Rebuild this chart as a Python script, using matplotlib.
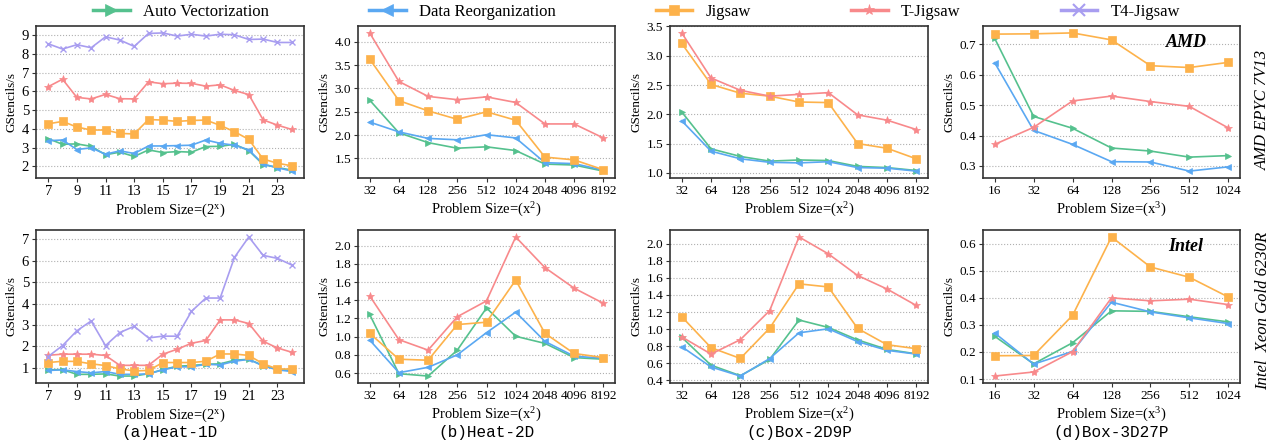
import numpy as np
import matplotlib.pyplot as plt
from matplotlib.lines import Line2D
from matplotlib.ticker import MultipleLocator, FormatStrFormatter

plt.rcParams['font.family'] = ['Liberation Serif', 'DejaVu Serif']
plt.rcParams['mathtext.fontset'] = 'stix'

# ---- data ----
heat1d_x = list(range(7, 25))
sq_sizes = ['32', '64', '128', '256', '512', '1024', '2048', '4096', '8192']
cube_sizes = ['16', '32', '64', '128', '256', '512', '1024']

# AMD EPYC 7V13
amd_h1_auto = [3.48, 3.18, 3.20, 3.07, 2.62, 2.76, 2.53, 2.88, 2.74, 2.79, 2.76, 3.06, 3.07, 3.18, 2.84, 2.10, 1.94, 1.80]
amd_h1_reorg = [3.37, 3.41, 2.90, 2.99, 2.65, 2.83, 2.69, 3.09, 3.09, 3.11, 3.13, 3.41, 3.23, 3.13, 2.88, 2.12, 1.93, 1.75]
amd_h1_jig = [4.27, 4.40, 4.10, 3.94, 3.94, 3.76, 3.73, 4.50, 4.47, 4.40, 4.45, 4.47, 4.19, 3.85, 3.44, 2.39, 2.17, 2.03]
amd_h1_tjig = [6.25, 6.65, 5.68, 5.60, 5.84, 5.61, 5.60, 6.51, 6.41, 6.44, 6.43, 6.28, 6.35, 6.05, 5.83, 4.48, 4.20, 3.97]
amd_h1_t4 = [8.54, 8.26, 8.49, 8.33, 8.91, 8.74, 8.40, 9.09, 9.12, 8.95, 9.05, 8.95, 9.05, 9.02, 8.77, 8.79, 8.61, 8.61]

amd_h2_auto = [2.75, 2.05, 1.84, 1.72, 1.75, 1.67, 1.38, 1.36, 1.23]
amd_h2_reorg = [2.28, 2.07, 1.93, 1.90, 2.01, 1.94, 1.41, 1.39, 1.25]
amd_h2_jig = [3.63, 2.74, 2.52, 2.34, 2.50, 2.32, 1.53, 1.47, 1.26]
amd_h2_tjig = [4.19, 3.15, 2.83, 2.76, 2.82, 2.70, 2.24, 2.24, 1.94]

amd_b2_auto = [2.04, 1.41, 1.28, 1.20, 1.22, 1.21, 1.11, 1.09, 1.04]
amd_b2_reorg = [1.89, 1.37, 1.24, 1.18, 1.17, 1.19, 1.09, 1.08, 1.03]
amd_b2_jig = [3.21, 2.51, 2.36, 2.31, 2.21, 2.20, 1.50, 1.42, 1.24]
amd_b2_tjig = [3.39, 2.62, 2.41, 2.31, 2.34, 2.37, 1.99, 1.90, 1.74]

amd_b3_auto = [0.720, 0.463, 0.424, 0.359, 0.349, 0.329, 0.334]
amd_b3_reorg = [0.640, 0.417, 0.371, 0.314, 0.313, 0.283, 0.297]
amd_b3_jig = [0.734, 0.735, 0.738, 0.715, 0.630, 0.624, 0.641]
amd_b3_tjig = [0.371, 0.427, 0.514, 0.530, 0.512, 0.496, 0.425]

# Intel Xeon Gold 6230R
intel_h1_auto = [0.91, 0.92, 0.70, 0.70, 0.72, 0.62, 0.62, 0.73, 0.92, 1.08, 1.11, 1.17, 1.19, 1.36, 1.40, 1.11, 0.94, 0.88]
intel_h1_reorg = [0.88, 0.91, 0.83, 0.77, 0.83, 0.70, 0.70, 0.72, 0.91, 1.05, 1.05, 1.17, 1.14, 1.31, 1.40, 1.09, 0.91, 0.83]
intel_h1_jig = [1.25, 1.31, 1.30, 1.19, 1.11, 0.95, 0.86, 0.88, 1.25, 1.25, 1.25, 1.31, 1.65, 1.65, 1.58, 1.19, 0.95, 0.95]
intel_h1_tjig = [1.59, 1.64, 1.64, 1.64, 1.58, 1.12, 1.12, 1.12, 1.64, 1.87, 2.15, 2.28, 3.24, 3.24, 3.07, 2.24, 1.93, 1.73]
intel_h1_t4 = [1.53, 2.04, 2.73, 3.19, 2.04, 2.65, 2.94, 2.40, 2.48, 2.48, 3.64, 4.26, 4.26, 6.16, 7.11, 6.25, 6.11, 5.80]

intel_h2_auto = [1.244, 0.593, 0.567, 0.852, 1.315, 1.004, 0.926, 0.770, 0.752]
intel_h2_reorg = [0.963, 0.604, 0.663, 0.800, 1.044, 1.270, 0.948, 0.785, 0.763]
intel_h2_jig = [1.037, 0.752, 0.741, 1.133, 1.159, 1.622, 1.037, 0.815, 0.770]
intel_h2_tjig = [1.448, 0.967, 0.852, 1.219, 1.393, 2.096, 1.759, 1.533, 1.367]

intel_b2_auto = [0.905, 0.578, 0.455, 0.645, 1.107, 1.020, 0.874, 0.763, 0.711]
intel_b2_reorg = [0.795, 0.557, 0.451, 0.656, 0.957, 1.004, 0.854, 0.752, 0.708]
intel_b2_jig = [1.146, 0.783, 0.657, 1.012, 1.530, 1.494, 1.008, 0.818, 0.771]
intel_b2_tjig = [0.909, 0.708, 0.877, 1.217, 2.079, 1.881, 1.628, 1.470, 1.277]

intel_b3_auto = [0.258, 0.156, 0.234, 0.352, 0.350, 0.330, 0.311]
intel_b3_reorg = [0.270, 0.155, 0.202, 0.384, 0.348, 0.326, 0.305]
intel_b3_jig = [0.186, 0.187, 0.335, 0.625, 0.514, 0.476, 0.403]
intel_b3_tjig = [0.111, 0.126, 0.201, 0.400, 0.389, 0.395, 0.375]

methods = ['Auto Vectorization', 'Data Reorganization', 'Jigsaw', 'T-Jigsaw', 'T4-Jigsaw']
colors = ['#55C18E', '#5AA8F2', '#FDB24B', '#F8898B', '#A89DF0']
markers = ['>', '<', 's', '*', 'x']
msizes = [5, 5, 6, 6, 5]
leg_msizes = [9, 9, 7, 8, 8]

captions = ['(a)Heat-1D', '(b)Heat-2D', '(c)Box-2D9P', '(d)Box-3D27P']
xlabels = [r'Problem Size=($\mathregular{2^x}$)', r'Problem Size=($\mathregular{x^2}$)',
           r'Problem Size=($\mathregular{x^2}$)', r'Problem Size=($\mathregular{x^3}$)']
# y tick step and format per panel (row, col)
ysteps = [[1, 0.5, 0.5, 0.1], [1, 0.2, 0.2, 0.1]]
yfmts = [['%d', '%.1f', '%.1f', '%.1f'], ['%d', '%.1f', '%.1f', '%.1f']]
tick_sizes = [10.5, 9.5, 9.5, 9.5]

rows = [
    [[amd_h1_auto, amd_h1_reorg, amd_h1_jig, amd_h1_tjig, amd_h1_t4],
     [amd_h2_auto, amd_h2_reorg, amd_h2_jig, amd_h2_tjig],
     [amd_b2_auto, amd_b2_reorg, amd_b2_jig, amd_b2_tjig],
     [amd_b3_auto, amd_b3_reorg, amd_b3_jig, amd_b3_tjig]],
    [[intel_h1_auto, intel_h1_reorg, intel_h1_jig, intel_h1_tjig, intel_h1_t4],
     [intel_h2_auto, intel_h2_reorg, intel_h2_jig, intel_h2_tjig],
     [intel_b2_auto, intel_b2_reorg, intel_b2_jig, intel_b2_tjig],
     [intel_b3_auto, intel_b3_reorg, intel_b3_jig, intel_b3_tjig]],
]

fig = plt.figure(figsize=(12.76, 4.44), dpi=100)
W, H = 1276, 444
cols_px = [(36, 304), (358, 615), (670, 928), (983, 1240)]
rows_px = [(26, 178), (230, 383)]

for r, (top, bot) in enumerate(rows_px):
    for c, (left, right) in enumerate(cols_px):
        ax = fig.add_axes([left / W, 1 - bot / H, (right - left) / W, (bot - top) / H])
        series = rows[r][c]
        if c == 0:
            xs = heat1d_x
        elif c == 3:
            xs = np.arange(len(cube_sizes))
        else:
            xs = np.arange(len(sq_sizes))
        for i, ys in enumerate(series):
            ax.plot(xs, ys, color=colors[i], marker=markers[i], markersize=msizes[i],
                    linewidth=1.2, markeredgewidth=1.0 if markers[i] == 'x' else 0.5,
                    markeredgecolor=colors[i])
        if c == 0:
            ax.set_xticks(heat1d_x[::2])
        elif c == 3:
            ax.set_xticks(xs)
            ax.set_xticklabels(cube_sizes)
        else:
            ax.set_xticks(xs)
            ax.set_xticklabels(sq_sizes)
        ax.yaxis.set_major_locator(MultipleLocator(ysteps[r][c]))
        ax.yaxis.set_major_formatter(FormatStrFormatter(yfmts[r][c]))
        ax.grid(axis='y', linestyle=':', color='#b0b0b0', linewidth=0.8)
        ax.set_axisbelow(True)
        for s in ax.spines.values():
            s.set_color('#333333')
            s.set_linewidth(1.2)
        ax.tick_params(labelsize=tick_sizes[c], length=3, width=0.8, color='#333333', pad=2)
        ax.set_ylabel('GStencils/s', fontsize=9.5, labelpad=3)
        ax.set_xlabel(xlabels[c], fontsize=10.5, labelpad=3)
        if r == 1:
            ax.text((left + right) / 2 / W, 1 - 432 / H, captions[c], transform=fig.transFigure,
                    ha='center', va='center', fontsize=11.5, family='Liberation Mono')
        if c == 3:
            ax.text(0.79, 0.89, 'AMD' if r == 0 else 'Intel', transform=ax.transAxes,
                    ha='center', va='center', fontsize=13, fontweight='bold', style='italic')

fig.text(1263 / W, 1 - 110 / H, 'AMD EPYC 7V13', rotation=90, ha='center', va='center',
         fontsize=12, style='italic')
fig.text(1263 / W, 1 - 311 / H, 'Intel  Xeon Gold 6230R', rotation=90, ha='center', va='center',
         fontsize=12, style='italic')

handles = [Line2D([], [], color=colors[i], marker=markers[i], markersize=leg_msizes[i],
                  linewidth=2.5, markeredgewidth=1.5 if markers[i] == 'x' else 0.5,
                  markeredgecolor=colors[i]) for i in range(5)]
fig.legend(handles, methods, loc='center', bbox_to_anchor=(0.499, 1 - 12 / H), ncol=5,
           frameon=False, fontsize=12, handlelength=2.2, handletextpad=0.8,
           columnspacing=6.0, borderpad=0)

fig.savefig('out.png', dpi=100)
